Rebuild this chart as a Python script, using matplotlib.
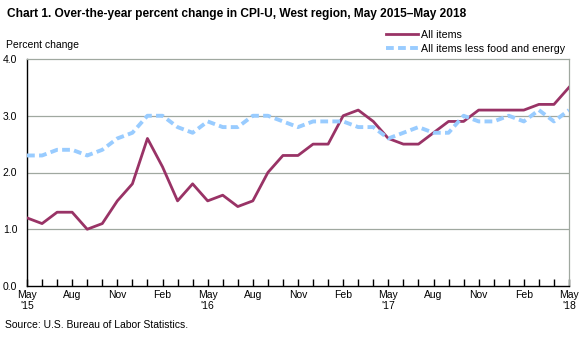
import matplotlib
matplotlib.use("Agg")
import matplotlib.pyplot as plt

plt.rcParams['font.family'] = ['Liberation Sans', 'DejaVu Sans']

# monthly over-the-year percent change, May 2015 - May 2018
months = ['May', 'Jun', 'Jul', 'Aug', 'Sep', 'Oct', 'Nov', 'Dec', 'Jan', 'Feb', 'Mar', 'Apr'] * 3 + ['May']
years = ["'15", "'16", "'17", "'18"]
all_items = [1.2, 1.1, 1.3, 1.3, 1.0, 1.1, 1.5, 1.8, 2.6, 2.1, 1.5, 1.8,
             1.5, 1.6, 1.4, 1.5, 2.0, 2.3, 2.3, 2.5, 2.5, 3.0, 3.1, 2.9,
             2.6, 2.5, 2.5, 2.7, 2.9, 2.9, 3.1, 3.1, 3.1, 3.1, 3.2, 3.2,
             3.5]
core = [2.3, 2.3, 2.4, 2.4, 2.3, 2.4, 2.6, 2.7, 3.0, 3.0, 2.8, 2.7,
        2.9, 2.8, 2.8, 3.0, 3.0, 2.9, 2.8, 2.9, 2.9, 2.9, 2.8, 2.8,
        2.6, 2.7, 2.8, 2.7, 2.7, 3.0, 2.9, 2.9, 3.0, 2.9, 3.1, 2.9,
        3.1]
yticks = [0.0, 1.0, 2.0, 3.0, 4.0]

fig = plt.figure(figsize=(5.88, 3.37), dpi=100)
ax = fig.add_axes([27/588, 1 - 286/337, 542/588, 227/337])

x = list(range(len(all_items)))
ax.plot(x, all_items, color='#993366', lw=2, label='All items', zorder=3)
ax.plot(x, core, color='#99ccff', lw=2.8, ls=(0, (2.0, 1.1)),
        label='All items less food and energy', zorder=3)

ax.set_xlim(0, len(x) - 1)
ax.set_ylim(0, 4)
ax.set_yticks(yticks)
ax.set_yticklabels(['%.1f' % v for v in yticks], fontsize=7.5)
ax.tick_params(axis='y', length=0, pad=7)
for v in yticks[1:4]:
    ax.axhline(v, color='#a0a8a0', lw=0.9, zorder=1)

# month ticks every month, labels every quarter
ax.set_xticks(x, minor=True)
ax.set_xticks(x[::3])
labels = []
for i in x[::3]:
    if months[i] == 'May':
        labels.append(months[i] + '\n' + years[i // 12])
    else:
        labels.append(months[i])
ax.set_xticklabels(labels, fontsize=7.5, linespacing=1.1)
ax.tick_params(axis='x', which='both', direction='in', length=5, width=1, color='black', pad=3)

for s in ['top', 'right']:
    ax.spines[s].set_color('#a0a8a0')
    ax.spines[s].set_linewidth(0.9)
for s in ['left', 'bottom']:
    ax.spines[s].set_color('black')
    ax.spines[s].set_linewidth(1)

fig.text(7/588, 1 - 14/337, 'Chart 1. Over-the-year percent change in CPI-U, West region, May 2015\u2013May 2018',
         fontsize=8.6, fontweight='bold', va='center', ha='left')
fig.text(6/588, 1 - 45/337, 'Percent change', fontsize=7.5, va='center', ha='left')
fig.text(5/588, 1 - 325/337, 'Source: U.S. Bureau of Labor Statistics.', fontsize=7.5, va='center', ha='left')

leg = fig.legend(loc='upper left', bbox_to_anchor=(386/588, 1 - 30/337), frameon=False,
                 fontsize=7.7, handlelength=3.0, handletextpad=0.3, labelspacing=0.35,
                 borderaxespad=0, borderpad=0)

fig.savefig('out.png', dpi=100)
